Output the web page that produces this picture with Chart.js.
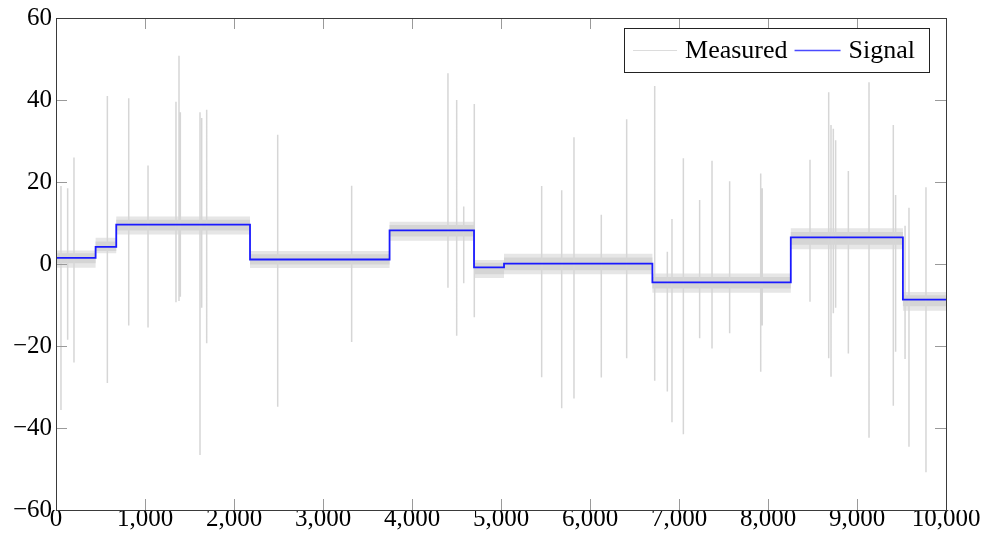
<!DOCTYPE html>
<html>
<head>
<meta charset="utf-8">
<title>Measured vs Signal</title>
<script src="https://cdn.jsdelivr.net/npm/chart.js@4/dist/chart.umd.min.js"></script>
<style>
  html, body { margin: 0; padding: 0; background: #fff; }
  #wrap { width: 986px; height: 534px; position: relative; }
</style>
</head>
<body>
<div id="wrap"><canvas id="stepChart"></canvas></div>
<script>
/* piecewise-constant signal: start of each segment and its level */
const segStart    = [0, 445, 677, 2180, 3748, 4697, 5034, 6701, 8256, 9516];
const signalLevel = [1.5, 4.2, 9.6, 1.1, 8.2, -0.8, 0.1, -4.5, 6.5, -8.7];
const xEnd = 10000;

/* spread of the measured noise around each segment: outer extremes and dense core */
const bandHigh = [3.3, 6.4, 11.6, 3.2, 10.3, 1.0, 2.5, -2.3, 8.7, -6.8];
const bandLow  = [-0.9, 2.6, 7.2, -1.0, 5.7, -3.4, -2.5, -7.0, 3.6, -11.4];
const coreHigh = [2.6, 5.5, 10.8, 2.4, 9.5, 0.3, 1.6, -3.2, 7.8, -7.6];
const coreLow  = [0.2, 3.2, 8.2, -0.1, 6.7, -2.5, -1.5, -6.0, 4.7, -10.3];

/* outlier spikes in the measured trace */
const spikeX    = [56, 131, 202, 577, 817, 1034, 1348, 1382, 1397, 1618, 1637, 1693, 2491, 3322, 4404, 4502, 4581, 4700,
                   5457, 5682, 5820, 6127, 6412, 6727, 6869, 6921, 7049, 7232, 7371, 7569, 7918, 7935, 8472, 8682, 8708,
                   8734, 8760, 8903, 9135, 9408, 9434, 9540, 9584, 9775];
const spikeHigh = [19, 18.5, 26, 41, 40.4, 24, 39.6, 50.8, 37, 37, 35.6, 37.6, 31.5, 19.1, 46.5, 40, 14, 39,
                   19, 18, 30.9, 12, 35.3, 43.4, 3, 11, 25.8, 15.6, 25.2, 20.2, 22.1, 18.5, 25.4, 41.9, 33.9,
                   33, 30.2, 22.7, 44.3, 33.9, 16.8, 9.3, 13.7, 18.7];
const spikeLow  = [-35.6, -18.5, -24, -29, -15, -15.5, -9.3, -9, -8, -46.6, -10.7, -19.3, -34.8, -19, -5.8, -17.5, -4.7, -13,
                   -27.6, -35.2, -32.8, -27.7, -23, -28.5, -31.1, -38.6, -41.5, -18.1, -20.6, -16.9, -26.3, -15, -9.2, -23, -27.5,
                   -12, -10.7, -21.8, -42.4, -34.6, -21.4, -23.2, -44.6, -50.8];

const yTicks = [-60, -40, -20, 0, 20, 40, 60];

const FONT = 'Liberation Serif, Times New Roman, serif';
const GRAY = '#d6d6d6';
const BLUE = '#1a1aff';

// step series: one point per segment start plus a closing point at the end
function stepPoints(levels) {
  const pts = segStart.map((x, i) => ({ x: x, y: levels[i] }));
  pts.push({ x: xEnd, y: levels[levels.length - 1] });
  return pts;
}

// upper/lower edge pair of a shaded band, filled between each other
function bandPair(hi, lo, color, order) {
  const edge = { stepped: true, borderWidth: 0, pointRadius: 0, order: order };
  return [
    Object.assign({ label: 'band-hi', data: stepPoints(hi), fill: false }, edge),
    Object.assign({ label: 'band-lo', data: stepPoints(lo), fill: '-1', backgroundColor: color }, edge)
  ];
}

// each spike is a vertical stroke, broken from the next one by a null
const spikePoints = [];
spikeX.forEach((x, i) => {
  spikePoints.push({ x: x, y: spikeHigh[i] }, { x: x, y: spikeLow[i] }, { x: x, y: null });
});

/* box around the plot plus inward ticks on all four sides */
const frameTicks = {
  id: 'frameTicks',
  afterDatasetsDraw(chart) {
    const { ctx, chartArea: a, scales: { x, y } } = chart;
    ctx.save();
    ctx.lineWidth = 1;
    ctx.strokeStyle = '#9a9a9a';
    ctx.beginPath();
    x.ticks.forEach(t => {
      if (t.value <= x.min || t.value >= x.max) return;
      const px = Math.round(x.getPixelForValue(t.value)) + 0.5;
      ctx.moveTo(px, a.bottom); ctx.lineTo(px, a.bottom - 11);
      ctx.moveTo(px, a.top);    ctx.lineTo(px, a.top + 11);
    });
    y.ticks.forEach(t => {
      if (t.value <= y.min || t.value >= y.max) return;
      const py = Math.round(y.getPixelForValue(t.value)) + 0.5;
      ctx.moveTo(a.left, py);  ctx.lineTo(a.left + 11, py);
      ctx.moveTo(a.right, py); ctx.lineTo(a.right - 11, py);
    });
    ctx.stroke();
    ctx.strokeStyle = '#3a3a3a';
    ctx.strokeRect(Math.round(a.left) + 0.5, Math.round(a.top) + 0.5,
                   Math.round(a.right - a.left), Math.round(a.bottom - a.top));
    ctx.restore();
  }
};

/* boxed legend in the upper right corner of the plot */
const boxLegend = {
  id: 'boxLegend',
  afterDraw(chart) {
    const { ctx, chartArea: a } = chart;
    const items = chart.data.datasets.filter(d => d.legendRank !== undefined)
      .sort((p, q) => p.legendRank - q.legendRank);
    ctx.save();
    ctx.font = '26px ' + FONT;
    ctx.textBaseline = 'middle';
    const sample = [44, 46];
    const parts = items.map((d, i) => ({ d, line: sample[i], w: ctx.measureText(d.label).width }));
    const total = parts.reduce((s, p) => s + p.line + 8 + p.w, 0) + 9 + 7 + 14;
    const right = a.right - 17, top = a.top + 10, h = 44;
    const left = right - total;
    ctx.fillStyle = '#fff';
    ctx.fillRect(left, top, total, h);
    ctx.strokeStyle = '#222';
    ctx.lineWidth = 1;
    ctx.strokeRect(Math.round(left) + 0.5, top + 0.5, Math.round(total), h);
    let cx = left + 9;
    const cy = top + h / 2 + 0.5;
    parts.forEach((p, i) => {
      ctx.strokeStyle = p.d.legendColor;
      ctx.lineWidth = p.d.legendWidth;
      ctx.beginPath();
      ctx.moveTo(cx, cy); ctx.lineTo(cx + p.line, cy);
      ctx.stroke();
      cx += p.line + 8;
      ctx.fillStyle = '#000';
      ctx.fillText(p.d.label, cx, cy + 1);
      cx += p.w + (i === 0 ? 7 : 0);
    });
    ctx.restore();
  }
};

new Chart(document.getElementById('stepChart').getContext('2d'), {
  type: 'line',
  data: {
    datasets: [
      {
        label: 'Signal',
        data: stepPoints(signalLevel),
        stepped: true,
        borderColor: BLUE,
        borderWidth: 1.8,
        pointRadius: 0,
        fill: false,
        order: 0,
        legendRank: 1,
        legendColor: '#4a4aff',
        legendWidth: 1.3,
      },
      {
        label: 'Measured',
        data: spikePoints,
        borderColor: GRAY,
        borderWidth: 1.5,
        pointRadius: 0,
        spanGaps: false,
        fill: false,
        order: 1,
        legendRank: 0,
        legendColor: '#dcdcdc',
        legendWidth: 1,
      },
      ...bandPair(coreHigh, coreLow, '#d5d5d5', 2),
      ...bandPair(bandHigh, bandLow, '#e6e6e6', 3)
    ]
  },
  options: {
    responsive: true,
    maintainAspectRatio: false,
    animation: false,
    events: [],
    layout: { padding: { top: 18, right: 40, left: 0, bottom: 0 } },
    plugins: {
      legend: { display: false },
      tooltip: { enabled: false },
      filler: { propagate: false }
    },
    scales: {
      x: {
        type: 'linear',
        min: 0,
        max: xEnd,
        grid: { display: false, drawTicks: false },
        border: { display: false },
        afterFit: s => { s.height = 24; },
        ticks: {
          stepSize: 1000,
          maxRotation: 0,
          autoSkip: false,
          padding: -3,
          color: '#000',
          font: { family: FONT, size: 25, lineHeight: 1 },
          callback: v => v.toLocaleString('en-US')
        }
      },
      y: {
        min: -60,
        max: 60,
        grid: { display: false, drawTicks: false },
        border: { display: false },
        afterFit: s => { s.width = 56; },
        afterBuildTicks: s => { s.ticks = yTicks.map(v => ({ value: v })); },
        ticks: {
          padding: 4,
          color: '#000',
          font: { family: FONT, size: 25, lineHeight: 1 },
          callback: v => (v < 0 ? '\u2212' + Math.abs(v) : String(v))
        }
      }
    }
  },
  plugins: [frameTicks, boxLegend]
});
</script>
</body>
</html>
